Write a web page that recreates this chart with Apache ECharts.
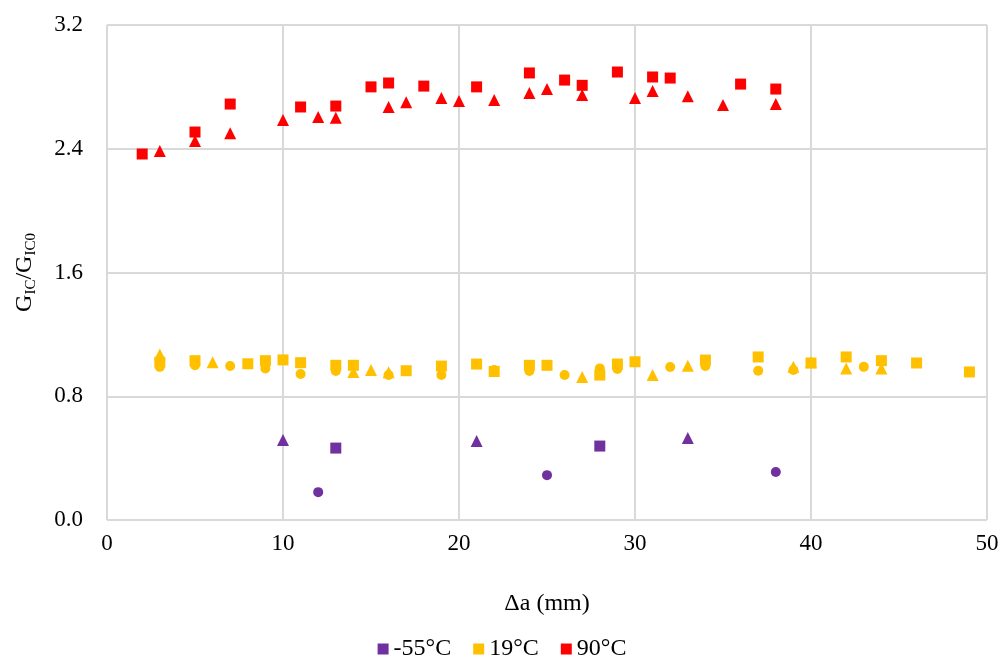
<!DOCTYPE html>
<html><head><meta charset="utf-8">
<script src="https://cdn.jsdelivr.net/npm/echarts@6/dist/echarts.min.js"></script>
<style>html,body{margin:0;padding:0;background:#fff}#c{width:1004px;height:663px}</style>
</head><body><div id="c"></div>
<script>
const xTicks = [0, 10, 20, 30, 40, 50];
const yTicks = [0.0, 0.8, 1.6, 2.4, 3.2];
const seriesNames = ['-55°C', '19°C', '90°C'];

// -55°C
const m55Triangles = [[10, 0.517], [21, 0.51], [33, 0.53]];
const m55Squares = [[13, 0.465], [28, 0.478]];
const m55Circles = [[12, 0.18], [25, 0.29], [38, 0.31]];

// 19°C
const t19Squares = [[3, 1.02], [5, 1.03], [8, 1.01], [9, 1.03], [10, 1.035], [11, 1.017], [13, 1.0], [14, 1.0], [17, 0.965], [19, 0.995], [21, 1.008], [22, 0.96], [24, 1.0], [25, 1.0], [28, 0.937], [29, 1.008], [30, 1.023], [34, 1.034], [37, 1.054], [40, 1.015], [42, 1.054], [44, 1.03], [46, 1.015], [49, 0.957]];
const t19Circles = [[3, 0.99], [5, 1.0], [7, 0.995], [9, 0.98], [11, 0.944], [13, 0.963], [16, 0.937], [19, 0.937], [22, 0.97], [24, 0.963], [26, 0.937], [28, 0.98], [29, 0.976], [32, 0.989], [34, 0.995], [37, 0.965], [39, 0.97], [43, 0.99]];
const t19Triangles = [[3, 1.07], [6, 1.02], [14, 0.957], [15, 0.97], [16, 0.955], [27, 0.924], [31, 0.937], [33, 0.997], [39, 0.99], [40, 1.02], [42, 0.98], [44, 0.98]];

// 90°C
const t90Squares = [[2, 2.366], [5, 2.508], [7, 2.689], [11, 2.67], [13, 2.676], [15, 2.80], [16, 2.825], [18, 2.805], [21, 2.80], [24, 2.89], [26, 2.844], [27, 2.81], [29, 2.896], [31, 2.864], [32, 2.857], [36, 2.818], [38, 2.786]];
const t90Triangles = [[3, 2.385], [5, 2.45], [7, 2.50], [10, 2.586], [12, 2.605], [13, 2.60], [16, 2.67], [17, 2.70], [19, 2.728], [20, 2.708], [22, 2.715], [24, 2.76], [25, 2.786], [27, 2.747], [30, 2.728], [31, 2.773], [33, 2.74], [35, 2.683], [38, 2.689]];

const colors = {'-55°C': '#7030A0', '19°C': '#FFC000', '90°C': '#FF0000'};
const FONT = 'Liberation Serif';

function sc(name, data, symbol, size) {
  return {
    name: name, type: 'scatter', data: data, symbol: symbol, symbolSize: size,
    itemStyle: {color: colors[name], opacity: 1}, emphasis: {disabled: true}
  };
}

const chart = echarts.init(document.getElementById('c'), null, {renderer: 'canvas'});
chart.setOption({
  animation: false,
  textStyle: {fontFamily: FONT},
  grid: {left: 107, right: 17, top: 25, bottom: 143, containLabel: false, outerBoundsMode: 'none'},
  xAxis: {
    type: 'value', min: xTicks[0], max: xTicks[xTicks.length - 1], interval: 10,
    name: 'Δa (mm)', nameLocation: 'middle', nameGap: 72,
    nameTextStyle: {fontFamily: FONT, fontSize: 24, color: '#000'},
    axisLine: {show: false}, axisTick: {show: false},
    axisLabel: {fontFamily: FONT, fontSize: 23, color: '#000', margin: 12},
    splitLine: {show: true, lineStyle: {color: '#d9d9d9', width: 2}}
  },
  yAxis: {
    type: 'value', min: yTicks[0], max: yTicks[yTicks.length - 1], interval: 0.8,
    name: '{n|G}{s|IC}{n|/G}{s|IC0}', nameLocation: 'middle', nameGap: 68, nameRotate: 90,
    nameTextStyle: {
      color: '#000',
      rich: {
        n: {fontFamily: FONT, fontSize: 24, color: '#000', lineHeight: 28},
        s: {fontFamily: FONT, fontSize: 15, color: '#000', lineHeight: 28, padding: [12, 0, 0, 0]}
      }
    },
    axisLine: {show: false}, axisTick: {show: false},
    axisLabel: {fontFamily: FONT, fontSize: 23, color: '#000', margin: 24, formatter: v => v.toFixed(1)},
    splitLine: {show: true, lineStyle: {color: '#d9d9d9', width: 2}}
  },
  legend: {
    data: seriesNames.map(n => ({name: n, icon: 'rect', itemStyle: {color: colors[n], opacity: 1}})),
    bottom: -3, left: 'center', itemWidth: 11, itemHeight: 11, itemGap: 22,
    textStyle: {fontFamily: FONT, fontSize: 24, color: '#000'}
  },
  series: [
    sc('-55°C', m55Squares, 'rect', 11),
    sc('-55°C', m55Triangles, 'triangle', 12),
    sc('-55°C', m55Circles, 'circle', 10),
    sc('19°C', t19Squares, 'rect', 11),
    sc('19°C', t19Triangles, 'triangle', 12),
    sc('19°C', t19Circles, 'circle', 10),
    sc('90°C', t90Squares, 'rect', 11),
    sc('90°C', t90Triangles, 'triangle', 12)
  ]
});
</script></body></html>
